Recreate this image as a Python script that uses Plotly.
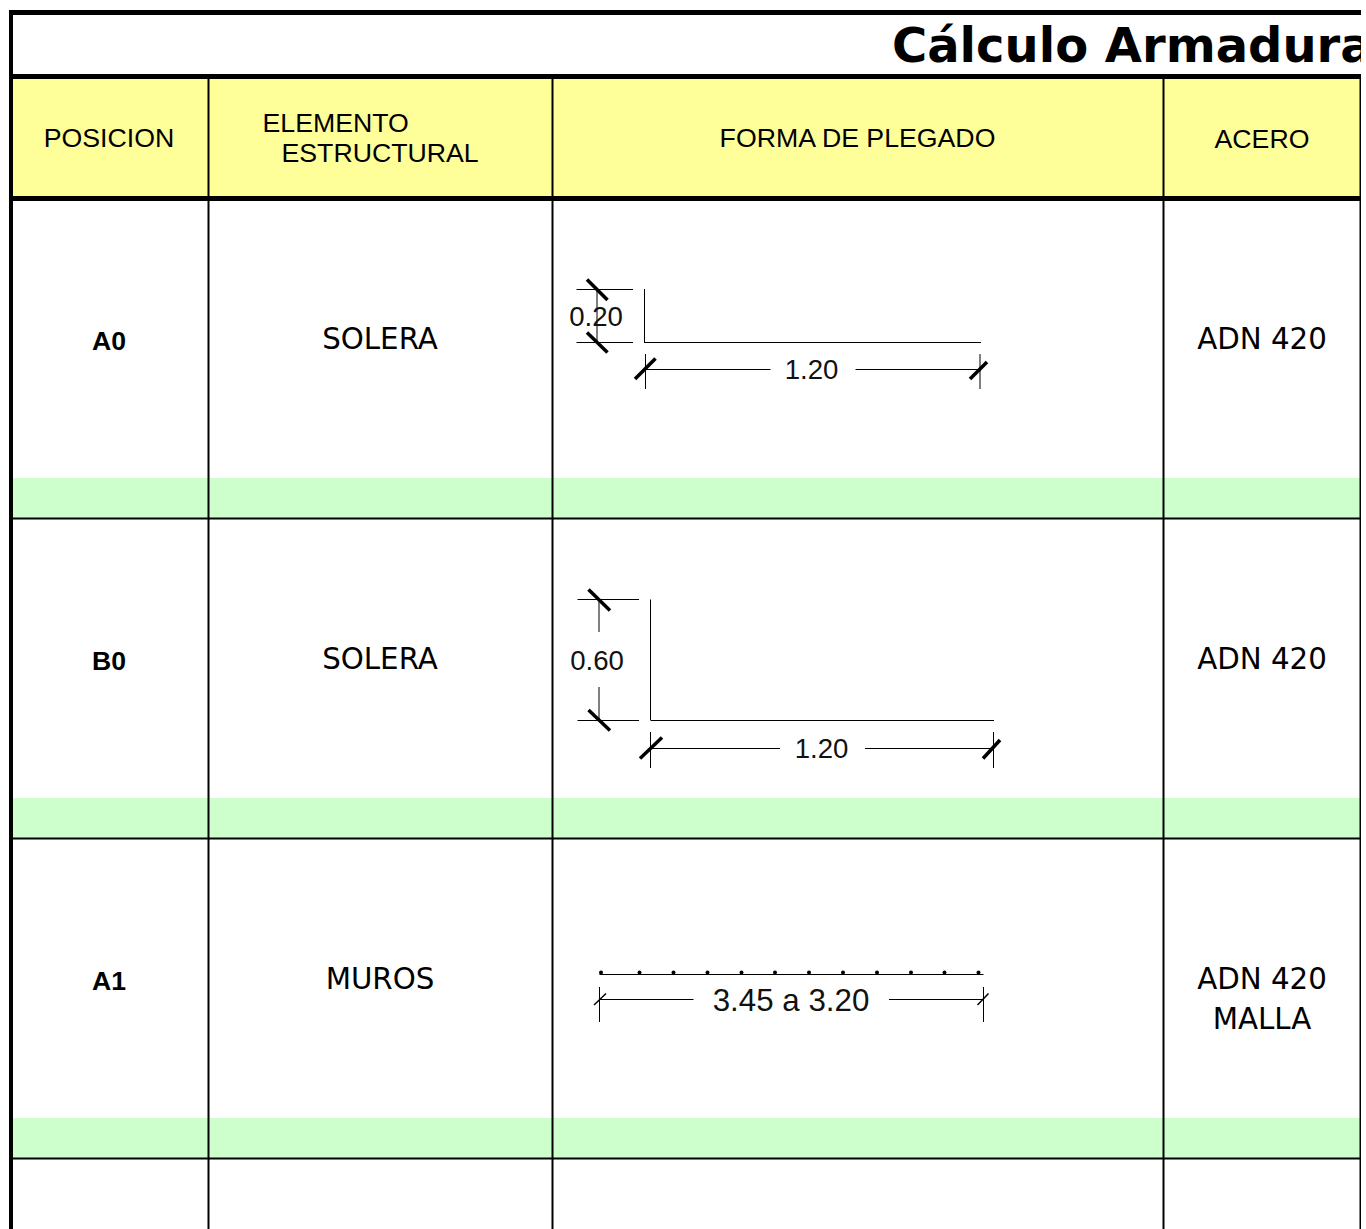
import plotly.graph_objects as go

# ---------- table structure (page pixels) ----------
column_edges = [11, 208.5, 552.5, 1163.5, 1360.5]
row_bottoms = [518, 838, 1158]
header_top = 76.5
header_bottom = 198.5
top_edge = 12.5
band_height = 40
page_height = 1229
right_limit = 1361

# ---------- text ----------
title_text = "Cálculo Armadura"
header_labels = ["POSICION", "FORMA DE PLEGADO", "ACERO"]
header_x = [109, 857.5, 1262]
header_y = [140, 140, 141]
element_lines = ["ELEMENTO", "ESTRUCTURAL"]
element_x = [262.5, 281.5]
element_y = [125, 155]
positions = ["A0", "B0", "A1"]
position_y = [343, 663, 983]
elements = ["SOLERA", "SOLERA", "MUROS"]
element_row_y = [342, 662, 982]
steel_lines = ["ADN 420", "ADN 420", "ADN 420", "MALLA"]
steel_y = [342, 662, 982, 1022]

dimension_labels = ["0.20", "1.20", "0.60", "1.20", "3.45 a 3.20"]
dimension_x = [596, 811.5, 597, 821.5, 791]
dimension_y = [319, 372.5, 663, 751, 1003]
dimension_sizes = [27.6, 27.6, 27.6, 27.6, 31.3]

# ---------- drawings: thin segments (x0, y0, x1, y1) ----------
thin_segments = [
    # A0 profile and dimensions
    (644.5, 289, 644.5, 343), (644.5, 342.5, 981, 342.5),
    (576.5, 289.5, 633, 289.5), (576.5, 342.5, 633, 342.5),
    (597, 289.5, 597, 343),
    (645.5, 369.5, 770.5, 369.5), (855.5, 369.5, 980, 369.5),
    (645.5, 354, 645.5, 389), (980, 354, 980, 389),
    # B0 profile and dimensions
    (650.5, 599.5, 650.5, 720), (650.5, 720.5, 994, 720.5),
    (577.5, 599.5, 639, 599.5), (577.5, 720.5, 639, 720.5),
    (599, 600, 599, 632), (599, 687, 599, 720),
    (651, 748.5, 780, 748.5), (865, 748.5, 993, 748.5),
    (650.5, 732, 650.5, 768), (993.5, 732, 993.5, 768),
    # A1 profile and dimensions
    (599.5, 974.5, 983.5, 974.5),
    (600, 999.5, 693.5, 999.5), (889, 999.5, 983, 999.5),
    (599.5, 987, 599.5, 1022), (983.5, 987, 983.5, 1022),
]
heavy_ticks = [
    (587, 279.5, 607.5, 300), (587, 332.5, 607.5, 352.5),
    (635, 379, 655.5, 358.5), (970, 379, 987, 362),
    (588.5, 589.5, 610, 610.5), (588.5, 710, 610, 730.5),
    (640, 758.5, 662, 737.5), (983, 758.5, 1000, 740),
]
light_ticks = [(594, 1005, 606, 993.5), (977.5, 1005, 988.5, 993.5)]
bar_dots_x = [601, 639.5, 673.5, 707.5, 741.5, 775, 809, 843, 877, 911, 944.5, 978.5]
bar_dots_y = [972.5] * len(bar_dots_x)

YELLOW = "#FFFF99"
GREEN = "#CCFFCC"
BLACK = "#000000"
LINE = "#000000"


def polyline(segments):
    xs, ys = [], []
    for x0, y0, x1, y1 in segments:
        xs += [x0, x1, None]
        ys += [y0, y1, None]
    return xs, ys


def rule(x0, y0, x1, y1, width):
    return dict(type="line", x0=x0, y0=y0, x1=x1, y1=y1, xref="x", yref="y",
                line=dict(color=BLACK, width=width), layer="below")


def band(x0, y0, x1, y1, color):
    return dict(type="rect", x0=x0, y0=y0, x1=x1, y1=y1, xref="x", yref="y",
                fillcolor=color, line=dict(width=0), layer="below")


def label(xs, ys, texts, family, size, color=BLACK, weight="normal", pos="middle center"):
    return go.Scatter(x=xs, y=ys, text=texts, mode="text", textposition=pos,
                      cliponaxis=True, hoverinfo="skip", showlegend=False,
                      textfont=dict(family=family, size=size, color=color, weight=weight))


SANS = "Liberation Sans"
DEJA = "DejaVu Sans"

shapes = [band(column_edges[0], header_top, column_edges[-1], header_bottom, YELLOW)]
for bottom in row_bottoms:
    shapes.append(band(column_edges[0], bottom - band_height, column_edges[-1], bottom, GREEN))
for bottom in row_bottoms:
    shapes.append(rule(column_edges[0], bottom + 0.5, column_edges[-1], bottom + 0.5, 2))
for edge in column_edges[1:4]:
    shapes.append(rule(edge, header_top, edge, page_height, 2))
shapes.append(rule(column_edges[-1], header_top, column_edges[-1], page_height, 2))
shapes.append(rule(column_edges[0], 10, column_edges[0], page_height, 4))
shapes.append(rule(9, top_edge, right_limit, top_edge, 5))
shapes.append(rule(9, header_top, right_limit, header_top, 5))
shapes.append(rule(9, header_bottom, right_limit, header_bottom, 5))

fig = go.Figure()
x, y = polyline(thin_segments)
fig.add_trace(go.Scatter(x=x, y=y, mode="lines", line=dict(color=LINE, width=1),
                         hoverinfo="skip", showlegend=False))
x, y = polyline(heavy_ticks)
fig.add_trace(go.Scatter(x=x, y=y, mode="lines", line=dict(color=BLACK, width=3.5),
                         hoverinfo="skip", showlegend=False))
x, y = polyline(light_ticks)
fig.add_trace(go.Scatter(x=x, y=y, mode="lines", line=dict(color=BLACK, width=1.5),
                         hoverinfo="skip", showlegend=False))
fig.add_trace(go.Scatter(x=bar_dots_x, y=bar_dots_y, mode="markers",
                         marker=dict(color=BLACK, size=4), hoverinfo="skip", showlegend=False))

fig.add_trace(label([892], [50], [title_text], DEJA, 48, weight="bold", pos="middle right"))
fig.add_trace(label(header_x, header_y, header_labels, SANS, 26.7))
fig.add_trace(label(element_x, element_y, element_lines, SANS, 26.7, pos="middle right"))
fig.add_trace(label([109] * len(positions), position_y, positions, SANS, 26.6, weight="bold"))
fig.add_trace(label([380] * len(elements), element_row_y, elements, DEJA, 29.3))
fig.add_trace(label([1262] * len(steel_lines), steel_y, steel_lines, DEJA, 29.3))
for lx, ly, lt, ls in zip(dimension_x, dimension_y, dimension_labels, dimension_sizes):
    fig.add_trace(label([lx], [ly], [lt], SANS, ls, color="#111111"))

fig.update_layout(
    width=1366, height=page_height,
    margin=dict(l=0, r=1366 - right_limit, t=0, b=0),
    paper_bgcolor="white", plot_bgcolor="white",
    showlegend=False, shapes=shapes,
    xaxis=dict(range=[0, right_limit], visible=False, fixedrange=True),
    yaxis=dict(range=[page_height, 0], visible=False, fixedrange=True),
)
fig.write_html("out.html", config={"displayModeBar": False},
               post_script="document.body.style.margin='0';document.body.style.overflow='hidden';")
